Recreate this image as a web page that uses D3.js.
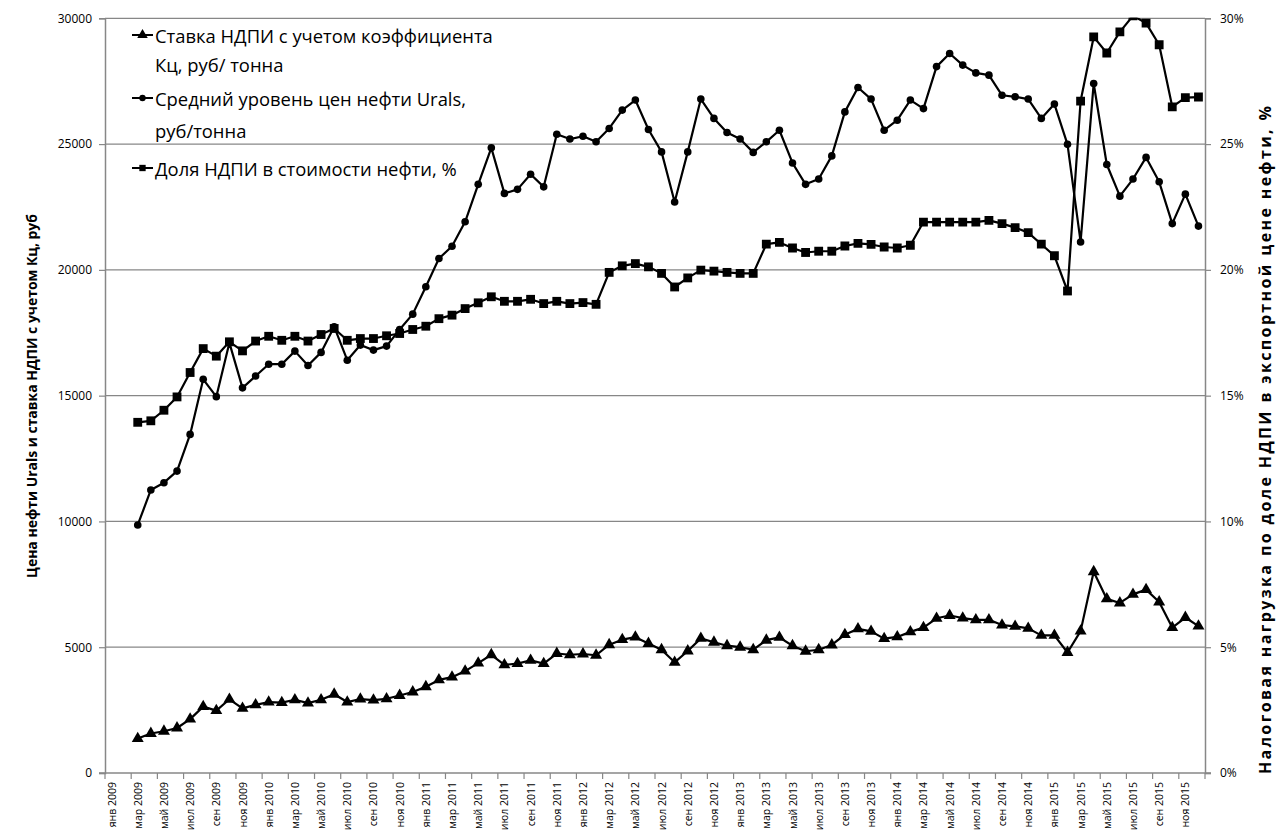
<!DOCTYPE html>
<html><head><meta charset="utf-8">
<script src="https://cdn.jsdelivr.net/npm/d3@7"></script>
<style>
body{margin:0;background:#fff;}
svg{display:block;font-family:"Open Sans","Noto Sans",sans-serif;}
</style></head>
<body><svg id="chart" width="1277" height="839"></svg>
<script>
// ---------- DATA ----------
const monthNames = ["янв","фев","мар","апр","май","июн","июл","авг","сен","окт","ноя","дек"];
const years = [2009,2010,2011,2012,2013,2014,2015];
const categories = [];
years.forEach(y => monthNames.forEach(m => categories.push(m + " " + y)));
const firstDataIndex = 2; // мар 2009

// Ставка НДПИ с учетом коэффициента Кц, руб/тонна (мар 2009 – дек 2015)
const ndpiRate = [1370,1570,1660,1790,2140,2640,2480,2930,2570,2710,2820,2800,2910,2780,2910,3130,2820,2940,2900,2950,
  3080,3220,3430,3700,3810,4050,4370,
  4700,4300,4350,4480,4350,4750,4700,4730,4680,
  5100,5300,5400,5150,4900,4400,4850,5350,5200,5060,5000,4900,
  5280,5390,5060,4840,4900,5090,5500,5730,5630,5340,5410,5610,
  5780,6150,6260,6160,6090,6090,5880,5830,5750,5470,5470,
  4790,5640,8000,6920,6760,7100,7290,6800,5780,6180,5840];

// Средний уровень цен нефти Urals, руб/тонна
const uralsPrice = [9860,11250,11540,12000,13460,15650,14960,17100,15310,15780,16250,16250,16770,16200,16720,17740,16410,17010,16810,16970,
  17630,18240,19330,20450,20940,21910,23400,
  24850,23040,23200,23800,23300,25390,25200,25310,25090,
  25620,26350,26750,25580,24690,22700,24690,26790,26020,25460,25200,24670,
  25090,25550,24250,23400,23610,24530,26280,27250,26790,25550,25950,26750,
  26410,28080,28600,28140,27830,27740,26940,26880,26790,26020,26590,
  24990,21110,27410,24190,22930,23610,24470,23500,21840,23010,21740];

// Доля НДПИ в стоимости нефти, %
const ndpiShare = [13.94,14.0,14.42,14.95,15.92,16.87,16.57,17.14,16.78,17.17,17.36,17.2,17.36,17.17,17.43,17.67,17.2,17.27,17.27,17.38,
  17.47,17.63,17.76,18.06,18.2,18.46,18.69,
  18.93,18.75,18.75,18.83,18.66,18.75,18.66,18.7,18.63,
  19.9,20.16,20.25,20.12,19.86,19.32,19.68,19.99,19.95,19.9,19.86,19.86,
  21.02,21.09,20.87,20.69,20.74,20.74,20.95,21.05,21.01,20.91,20.87,20.98,
  21.9,21.9,21.9,21.9,21.9,21.97,21.84,21.68,21.48,21.02,20.56,
  19.16,26.71,29.26,28.62,29.46,30.1,29.81,28.95,26.48,26.85,26.87];

const leftTicks = [0,5000,10000,15000,20000,25000,30000];
const rightTicks = [0,5,10,15,20,25,30];
const seriesNames = [
  ["Ставка НДПИ с учетом коэффициента","Кц, руб/ тонна"],
  ["Средний уровень цен нефти Urals,","руб/тонна"],
  ["Доля НДПИ в стоимости нефти, %"]
];
const leftTitle = "Цена нефти Urals и ставка НДПИ с учетом Кц, руб";
const rightTitle = "Налоговая нагрузка по доле НДПИ в экспортной цене нефти, %";

// ---------- LAYOUT ----------
const svg = d3.select("#chart");
const L = 105, R = 1205, T = 18.3, B = 773;
const gridColor = "#878787";

const x = d3.scaleBand().domain(categories).range([L, R]).padding(0);
const bw = x.bandwidth();
const cx = i => x(categories[i]) + bw / 2;
const yL = d3.scaleLinear().domain([0, 30000]).range([B, T]);
const yR = d3.scaleLinear().domain([0, 30]).range([B, T]);

svg.append("rect").attr("width",1277).attr("height",839).attr("fill","#fff");

// gridlines
svg.append("g").selectAll("line").data(leftTicks.filter(d=>d>0)).join("line")
  .attr("x1",L).attr("x2",R).attr("y1",d=>yL(d)).attr("y2",d=>yL(d))
  .attr("stroke",gridColor).attr("stroke-width",1.2);

// left axis
const gLeft = svg.append("g").attr("transform",`translate(${L},0)`)
  .call(d3.axisLeft(yL).tickValues(leftTicks).tickSize(6).tickPadding(7).tickFormat(d3.format("d")));
gLeft.select(".domain").attr("stroke",gridColor).attr("stroke-width",1.5);
gLeft.selectAll(".tick line").attr("stroke",gridColor).attr("stroke-width",1.2);
gLeft.selectAll(".tick text").attr("font-size",12).attr("fill","#000").attr("font-family","Open Sans");

// right axis
const gRight = svg.append("g").attr("transform",`translate(${R},0)`)
  .call(d3.axisRight(yR).tickValues(rightTicks).tickSize(6).tickPadding(9).tickFormat(d=>d+"%"));
gRight.select(".domain").attr("stroke",gridColor).attr("stroke-width",1.5);
gRight.selectAll(".tick line").attr("stroke",gridColor).attr("stroke-width",1.2);
gRight.selectAll(".tick text").attr("font-size",12).attr("fill","#000").attr("font-family","Open Sans");

// bottom axis
const gBottom = svg.append("g").attr("transform",`translate(0,${B})`);
gBottom.append("line").attr("x1",L-6).attr("x2",R+6).attr("stroke",gridColor).attr("stroke-width",1.5);
const tickIdx = d3.range(0, categories.length + 1, 2);
gBottom.selectAll("line.tk").data(tickIdx).join("line").attr("class","tk")
  .attr("x1",i => i < categories.length ? x(categories[i]) : R)
  .attr("x2",i => i < categories.length ? x(categories[i]) : R)
  .attr("y1",0).attr("y2",6).attr("stroke",gridColor).attr("stroke-width",1.2);
gBottom.selectAll("text").data(d3.range(0, categories.length, 2)).join("text")
  .attr("transform",i => `translate(${cx(i)},9) rotate(-90)`)
  .attr("text-anchor","end").attr("dominant-baseline","central")
  .attr("font-size",10.5).attr("fill","#000")
  .text(i => categories[i]);

// axis titles
svg.append("text").attr("transform",`translate(31,396) rotate(-90)`)
  .attr("text-anchor","middle").attr("dominant-baseline","central")
  .attr("font-size",14.5).attr("font-weight","bold")
  .attr("textLength",364).attr("lengthAdjust","spacingAndGlyphs").text(leftTitle);
svg.append("text").attr("transform",`translate(1265,440) rotate(-90)`)
  .attr("text-anchor","middle").attr("dominant-baseline","central")
  .attr("font-size",16).attr("font-weight","bold")
  .attr("textLength",668).attr("lengthAdjust","spacing")
  .text(rightTitle);

// clip
svg.append("clipPath").attr("id","plotclip").append("rect")
  .attr("x",L).attr("y",T-0.5).attr("width",R-L).attr("height",B-T+0.5);
const plot = svg.append("g").attr("clip-path","url(#plotclip)");

function toPts(arr){ return arr.map((v,k)=>({i:k+firstDataIndex, v})); }
const lineL = d3.line().x(d=>cx(d.i)).y(d=>yL(d.v));
const lineR = d3.line().x(d=>cx(d.i)).y(d=>yR(d.v));

const triSym = d3.symbol(d3.symbolTriangle, 62);
const sqSym = d3.symbol(d3.symbolSquare, 78);

// rate (triangles)
const pRate = toPts(ndpiRate);
plot.append("path").attr("d",lineL(pRate)).attr("fill","none").attr("stroke","#000").attr("stroke-width",2.2).attr("stroke-linejoin","round");
plot.selectAll("path.tri").data(pRate).join("path").attr("class","tri")
  .attr("d",triSym()).attr("transform",d=>`translate(${cx(d.i)},${yL(d.v)})`).attr("fill","#000");

// urals (circles)
const pUr = toPts(uralsPrice);
plot.append("path").attr("d",lineL(pUr)).attr("fill","none").attr("stroke","#000").attr("stroke-width",2.2).attr("stroke-linejoin","round");
plot.selectAll("circle.ur").data(pUr).join("circle").attr("class","ur")
  .attr("cx",d=>cx(d.i)).attr("cy",d=>yL(d.v)).attr("r",3.8).attr("fill","#000");

// share (squares)
const pSh = toPts(ndpiShare);
plot.append("path").attr("d",lineR(pSh)).attr("fill","none").attr("stroke","#000").attr("stroke-width",2.2).attr("stroke-linejoin","round");
plot.selectAll("path.sq").data(pSh).join("path").attr("class","sq")
  .attr("d",sqSym()).attr("transform",d=>`translate(${cx(d.i)},${yR(d.v)})`).attr("fill","#000");

// legend
const legY = [[35,64],[98,130],[168]];
const lg = svg.append("g");
seriesNames.forEach((lines, s) => {
  const yy = legY[s][0];
  lg.append("line").attr("x1",132).attr("x2",153).attr("y1",yy).attr("y2",yy).attr("stroke","#000").attr("stroke-width",2);
  if (s === 1) lg.append("circle").attr("cx",142.5).attr("cy",yy).attr("r",3.2).attr("fill","#000");
  else lg.append("path").attr("d", s===0 ? d3.symbol(d3.symbolTriangle,48)() : d3.symbol(d3.symbolSquare,40)())
    .attr("transform",`translate(142.5,${yy})`).attr("fill","#000");
  lines.forEach((t, j) => {
    lg.append("text").attr("x",155).attr("y",legY[s][j]).attr("dominant-baseline","central")
      .attr("font-size",18.4).attr("fill","#000").text(t);
  });
});
</script></body></html>
